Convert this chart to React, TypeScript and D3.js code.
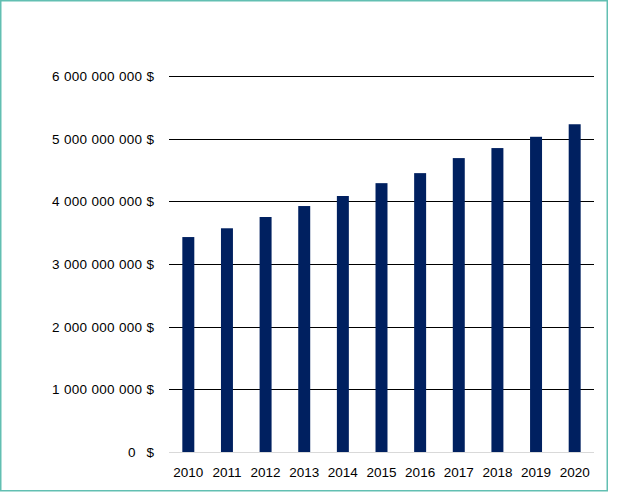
import { useEffect, useRef } from 'react';
import * as d3 from 'd3';

const years = ['2010', '2011', '2012', '2013', '2014', '2015', '2016', '2017', '2018', '2019', '2020'];
const revenue = [
  3430000000, 3570000000, 3750000000, 3925000000, 4085000000, 4290000000,
  4450000000, 4690000000, 4850000000, 5030000000, 5230000000
];
const yTicks = [0, 1000000000, 2000000000, 3000000000, 4000000000, 5000000000, 6000000000];

const WIDTH = 624;
const HEIGHT = 492;
const FONT = '"Liberation Sans", Arial, sans-serif';

const locale = d3.formatLocale({
  decimal: ',',
  thousands: ' ',
  grouping: [3],
  currency: ['', ' $']
});
const fmtMoney = locale.format(',.0f');

export default function App() {
  const svgRef = useRef<SVGSVGElement | null>(null);

  useEffect(() => {
    document.body.style.margin = '0';
    if (!svgRef.current) return;
    const svg = d3.select(svgRef.current);
    svg.selectAll('*').remove();

    const x = d3.scaleBand<string>().domain(years).range([169, 594]).paddingInner(0.69).paddingOuter(0.345);
    const y = d3.scaleLinear().domain([0, 6000000000]).range([452, 76]);

    // outer frame
    svg.append('rect')
      .attr('x', 0.75)
      .attr('y', 0.75)
      .attr('width', 606.5)
      .attr('height', 490)
      .attr('fill', '#ffffff')
      .attr('stroke', '#62bfb2')
      .attr('stroke-width', 1.5);

    // gridlines
    svg.append('g')
      .selectAll('line')
      .data(yTicks.filter(t => t > 0))
      .join('line')
      .attr('x1', 169)
      .attr('x2', 594)
      .attr('y1', d => Math.round(y(d)) + 0.5)
      .attr('y2', d => Math.round(y(d)) + 0.5)
      .attr('stroke', '#000000')
      .attr('stroke-width', 1.2);

    // y labels
    const yLabels = svg.append('g')
      .attr('font-family', FONT)
      .attr('font-size', 13.5)
      .attr('fill', '#000000');

    yLabels.selectAll('text')
      .data(yTicks.filter(t => t > 0))
      .join('text')
      .attr('x', 154)
      .attr('y', d => y(d))
      .attr('dy', '0.36em')
      .attr('text-anchor', 'end')
      .attr('textLength', 102)
      .attr('lengthAdjust', 'spacing')
      .text(d => `${fmtMoney(d)} $`);

    yLabels.append('text')
      .attr('x', 135.5)
      .attr('y', y(0))
      .attr('dy', '0.36em')
      .attr('text-anchor', 'end')
      .text(fmtMoney(0));
    yLabels.append('text')
      .attr('x', 154)
      .attr('y', y(0))
      .attr('dy', '0.36em')
      .attr('text-anchor', 'end')
      .text('$');

    // bars
    svg.append('g')
      .selectAll('rect')
      .data(revenue)
      .join('rect')
      .attr('x', (_, i) => x(years[i]) ?? 0)
      .attr('y', d => y(d))
      .attr('width', x.bandwidth())
      .attr('height', d => y(0) - y(d))
      .attr('fill', '#002060');

    // zero axis line
    svg.append('line')
      .attr('x1', 169)
      .attr('x2', 594)
      .attr('y1', Math.round(y(0)) + 0.5)
      .attr('y2', Math.round(y(0)) + 0.5)
      .attr('stroke', '#d9d9d9')
      .attr('stroke-width', 1);

    // x labels
    svg.append('g')
      .attr('font-family', FONT)
      .attr('font-size', 13.5)
      .attr('fill', '#000000')
      .selectAll('text')
      .data(years)
      .join('text')
      .attr('x', d => (x(d) ?? 0) + x.bandwidth() / 2)
      .attr('y', 477)
      .attr('text-anchor', 'middle')
      .text(d => d);
  }, []);

  return <svg ref={svgRef} width={WIDTH} height={HEIGHT} style={{ display: 'block' }} />;
}
